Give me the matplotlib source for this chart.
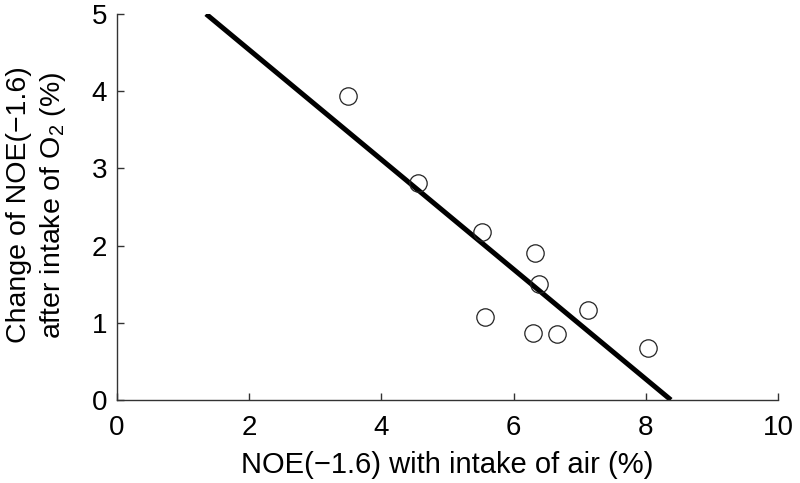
import matplotlib
matplotlib.use("Agg")
import matplotlib.pyplot as plt

x_air = [3.50, 4.56, 5.53, 6.32, 6.38, 7.12, 5.57, 6.29, 6.66, 8.03]
y_change = [3.94, 2.81, 2.17, 1.90, 1.50, 1.17, 1.07, 0.87, 0.85, 0.67]
fit_x = [1.35, 8.38]
fit_y = [5.0, 0.0]
xticks = [0, 2, 4, 6, 8, 10]
yticks = [0, 1, 2, 3, 4, 5]

plt.rcParams['font.family'] = ['Liberation Sans', 'DejaVu Sans']

fig = plt.figure(figsize=(8, 4.83), dpi=100)
ax = fig.add_axes([0.146, 0.172, 0.8265, 0.799])

ax.plot(fit_x, fit_y, color='black', lw=3.6, solid_capstyle='butt', zorder=2)
ax.plot(x_air, y_change, 'o', mfc='none', mec='#222222', mew=0.9, ms=12.5, zorder=3)

ax.set_xlim(0, 10)
ax.set_ylim(0, 5)
ax.set_xticks(xticks)
ax.set_yticks(yticks)
ax.spines['top'].set_visible(False)
ax.spines['right'].set_visible(False)
for s in ['left', 'bottom']:
    ax.spines[s].set_linewidth(1.0)
    ax.spines[s].set_color('#333333')
ax.tick_params(direction='in', length=5, width=1.0, labelsize=20, color='#333333')
ax.tick_params(axis='y', pad=7)
ax.tick_params(axis='x', pad=11)

ax.set_xlabel('NOE(−1.6) with intake of air (%)', fontsize=21, labelpad=7)
ax.set_ylabel('Change of NOE(−1.6)\nafter intake of O$_\\mathregular{2}$ (%)', fontsize=20.5, linespacing=1.25)
ax.yaxis.set_label_coords(-0.074, 0.505)

fig.savefig('out.png', dpi=100)
